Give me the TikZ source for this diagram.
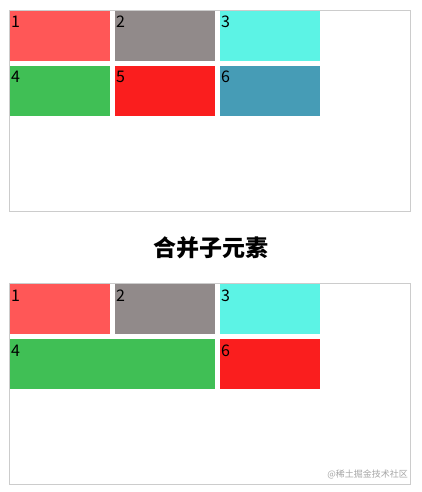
\documentclass[tikz,border=0pt]{standalone}
\usepackage{fontspec}
\setmainfont{Noto Sans CJK SC}
\newfontfamily\cjk{Noto Sans CJK SC}
\usetikzlibrary{calc}
\definecolor{cA}{HTML}{FF5757}
\definecolor{cB}{HTML}{918A8A}
\definecolor{cC}{HTML}{5CF3E5}
\definecolor{cD}{HTML}{40BF55}
\definecolor{cE}{HTML}{FA1E1E}
\definecolor{cF}{HTML}{469CB6}
\definecolor{frame}{HTML}{CCCCCC}
\tikzset{
  cell/.style={anchor=north west, inner sep=0pt, outer sep=0pt, minimum height=50pt, minimum width=100pt},
  num/.style={anchor=base west, inner sep=0pt, font=\fontsize{16pt}{16pt}\selectfont, text=black},
  container/.style={draw=frame, line width=1pt, anchor=north west, inner sep=0pt, outer sep=0pt, minimum width=401pt, minimum height=201pt}
}
\begin{document}
\begin{tikzpicture}[x=1pt,y=-1pt]
\useasboundingbox (0,0) rectangle (421,492);
\fill[white] (0,0) rectangle (421,492);
% top container
\node[container] (top) at (9.5,10.5) {};
\node[cell, fill=cA] (a1) at (10,11) {};
\node[cell, fill=cB] (a2) at (115,11) {};
\node[cell, fill=cC] (a3) at (220,11) {};
\node[cell, fill=cD] (a4) at (10,66) {};
\node[cell, fill=cE] (a5) at (115,66) {};
\node[cell, fill=cF] (a6) at (220,66) {};
\foreach \n/\t in {a1/1,a2/2,a3/3,a4/4,a5/5,a6/6}
  \node[num] (\n t) at ($(\n.north west)+(1,17)$) {\t};
% title
\node[font=\fontsize{23pt}{23pt}\selectfont\bfseries, inner sep=0pt] (title) at (210.5,248) {合并子元素};
% bottom container
\node[container] (bot) at (9.5,283.5) {};
\node[cell, fill=cA] (b1) at (10,284) {};
\node[cell, fill=cB] (b2) at (115,284) {};
\node[cell, fill=cC] (b3) at (220,284) {};
\node[cell, fill=cD, minimum width=205pt] (b4) at (10,339) {};
\node[cell, fill=cE] (b6) at (220,339) {};
\foreach \n/\t in {b1/1,b2/2,b3/3,b4/4,b6/6}
  \node[num] (\n t) at ($(\n.north west)+(1,17)$) {\t};
% watermark
\node[anchor=base east, inner sep=0pt, font=\fontsize{9pt}{9pt}\selectfont, text=black!35] (wm) at (408,477) {@稀土掘金技术社区};
\end{tikzpicture}
\end{document}
